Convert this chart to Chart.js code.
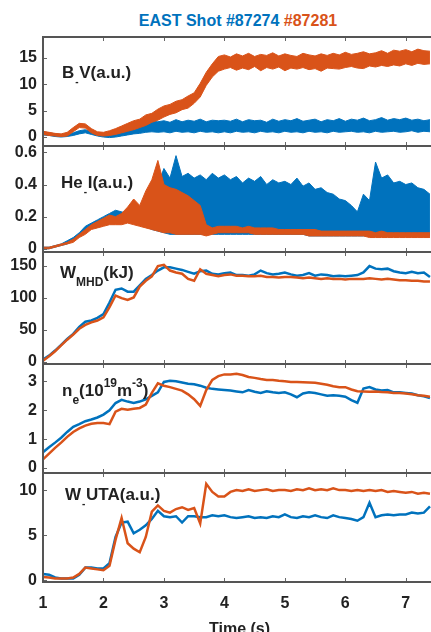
<!DOCTYPE html>
<html lang="en">
<head>
<meta charset="UTF-8">
<title>EAST Shot #87274 #87281</title>
<script src="https://cdn.jsdelivr.net/npm/chart.js@4.4.1/dist/chart.umd.min.js"></script>
<style>
  html, body { margin: 0; padding: 0; background: #fff; overflow: hidden; }
  #wrap { position: relative; width: 431px; height: 632px; overflow: hidden; }
  #title { position: absolute; left: 0; width: 476px; top: 12px; line-height: 18px; text-align: center;
           font: bold 16px "Liberation Sans", Arial, sans-serif; }
  canvas { position: absolute; left: 0; }
</style>
</head>
<body>
<div id="wrap">
  <div id="title"><span style="color:#0072BD">EAST Shot #87274</span> <span style="color:#D95319">#87281</span></div>
</div>
<script>
// time base (s)
var time = [1.0, 1.1, 1.2, 1.3, 1.4, 1.5, 1.6, 1.7, 1.8, 1.9,
            2.0, 2.1, 2.2, 2.3, 2.4, 2.5, 2.6, 2.7, 2.8, 2.9,
            3.0, 3.1, 3.2, 3.3, 3.4, 3.5, 3.6, 3.7, 3.8, 3.9,
            4.0, 4.1, 4.2, 4.3, 4.4, 4.5, 4.6, 4.7, 4.8, 4.9,
            5.0, 5.1, 5.2, 5.3, 5.4, 5.5, 5.6, 5.7, 5.8, 5.9,
            6.0, 6.1, 6.2, 6.3, 6.4, 6.5, 6.6, 6.7, 6.8, 6.9,
            7.0, 7.1, 7.2, 7.3, 7.4];
var xTicks = [1, 2, 3, 4, 5, 6, 7];

// B_V (a.u.) noise envelopes
var bvOrangeHi = [1.1, 0.9, 0.7, 0.6, 0.9, 1.8, 2.6, 2.5, 1.6, 1.0,
                  0.9, 1.2, 1.6, 2.1, 2.6, 3.1, 3.4, 4.2, 4.5, 5.3,
                  5.9, 6.2, 6.8, 7.1, 7.8, 8.4, 10.2, 12.3, 13.9, 15.3,
                  15.6, 15.2, 15.8, 15.4, 15.9, 15.3, 15.7, 15.5, 16.0, 15.4,
                  15.8, 15.5, 15.3, 15.9, 15.6, 15.4, 15.8, 15.5, 15.9, 15.6,
                  16.1, 15.7, 15.9, 16.2, 15.8, 16.0, 16.4, 15.9, 16.5, 16.3,
                  16.6, 16.2, 16.7, 16.4, 16.3];
var bvOrangeLo = [0.5, 0.3, 0.2, 0.1, 0.2, 1.0, 1.8, 1.7, 0.8, 0.3,
                  0.2, 0.3, 0.5, 0.8, 1.1, 1.4, 1.8, 2.2, 2.8, 3.2,
                  3.8, 4.3, 4.6, 5.2, 5.5, 6.4, 7.6, 9.8, 11.4, 12.5,
                  12.9, 13.2, 12.7, 13.1, 12.8, 13.4, 12.6, 13.2, 12.9, 13.3,
                  12.6, 13.1, 12.9, 13.2, 12.8, 13.0, 12.5, 13.1, 13.0, 12.9,
                  13.2, 13.4, 13.1, 13.0, 13.5, 13.3, 13.6, 13.4, 13.7, 13.5,
                  13.9, 13.6, 14.0, 13.8, 13.9];
var bvBlueHi = [1.0, 0.8, 0.6, 0.5, 0.6, 0.8, 1.2, 1.4, 1.0, 0.7,
                0.7, 0.9, 1.2, 1.5, 1.9, 2.3, 2.6, 2.8, 3.0, 2.9,
                3.1, 2.8, 3.3, 2.9, 3.2, 3.0, 3.4, 2.9, 3.2, 3.1,
                3.2, 3.0, 3.4, 2.9, 3.3, 3.1, 3.2, 2.8, 3.4, 3.0,
                3.3, 3.1, 3.5, 3.0, 3.2, 3.4, 2.9, 3.3, 3.1, 3.5,
                3.0, 3.4, 3.2, 3.6, 3.1, 3.3, 3.7, 3.2, 3.5, 3.3,
                3.6, 3.2, 3.4, 3.1, 3.3];
var bvBlueLo = [0.4, 0.3, 0.1, 0.0, 0.1, 0.3, 0.6, 0.8, 0.5, 0.2,
                0.0, -0.1, 0.0, 0.2, 0.4, 0.6, 0.7, 0.9, 1.0, 0.9,
                1.0, 0.8, 1.1, 0.9, 1.0, 0.8, 1.1, 0.9, 1.0, 0.8,
                1.0, 0.8, 1.1, 0.9, 1.0, 0.8, 1.1, 0.9, 1.0, 0.8,
                1.1, 0.9, 1.0, 0.8, 1.1, 0.9, 1.0, 0.8, 1.1, 0.9,
                1.0, 1.1, 0.9, 1.0, 0.8, 1.1, 0.9, 1.0, 1.1, 0.9,
                1.0, 1.2, 0.9, 1.1, 1.0];

// He_I (a.u.) envelopes
var heOrangeHi = [0.01, 0.01, 0.02, 0.03, 0.04, 0.06, 0.09, 0.12, 0.15, 0.17,
                  0.19, 0.21, 0.20, 0.22, 0.26, 0.31, 0.27, 0.36, 0.43, 0.55,
                  0.40, 0.38, 0.37, 0.35, 0.33, 0.30, 0.27, 0.15, 0.13, 0.14,
                  0.14, 0.14, 0.14, 0.13, 0.14, 0.13, 0.13, 0.13, 0.13, 0.12,
                  0.12, 0.12, 0.12, 0.12, 0.12, 0.12, 0.11, 0.11, 0.11, 0.11,
                  0.11, 0.11, 0.11, 0.11, 0.11, 0.10, 0.11, 0.10, 0.10, 0.10,
                  0.10, 0.10, 0.10, 0.10, 0.10];
var heOrangeLo = [0.00, 0.00, 0.01, 0.02, 0.03, 0.04, 0.07, 0.09, 0.12, 0.13,
                  0.14, 0.15, 0.15, 0.15, 0.16, 0.15, 0.14, 0.13, 0.12, 0.11,
                  0.10, 0.10, 0.09, 0.09, 0.09, 0.09, 0.09, 0.08, 0.09, 0.10,
                  0.10, 0.10, 0.10, 0.10, 0.10, 0.09, 0.09, 0.09, 0.09, 0.09,
                  0.09, 0.09, 0.09, 0.09, 0.08, 0.08, 0.08, 0.08, 0.08, 0.08,
                  0.08, 0.08, 0.08, 0.08, 0.07, 0.07, 0.07, 0.07, 0.07, 0.07,
                  0.07, 0.07, 0.07, 0.07, 0.07];
var heBlueHi = [0.01, 0.01, 0.02, 0.03, 0.05, 0.07, 0.10, 0.14, 0.16, 0.18,
                0.20, 0.22, 0.24, 0.23, 0.22, 0.24, 0.25, 0.30, 0.34, 0.40,
                0.50, 0.44, 0.58, 0.45, 0.47, 0.44, 0.46, 0.43, 0.47, 0.44,
                0.46, 0.43, 0.45, 0.41, 0.44, 0.42, 0.45, 0.40, 0.43, 0.41,
                0.42, 0.40, 0.44, 0.39, 0.41, 0.37, 0.38, 0.35, 0.34, 0.31,
                0.30, 0.27, 0.23, 0.34, 0.30, 0.54, 0.44, 0.46, 0.41, 0.42,
                0.40, 0.41, 0.38, 0.37, 0.34];
var heBlueLo = [0.00, 0.00, 0.01, 0.02, 0.03, 0.05, 0.08, 0.11, 0.13, 0.14,
                0.15, 0.16, 0.17, 0.17, 0.17, 0.17, 0.16, 0.14, 0.12, 0.11,
                0.10, 0.09, 0.09, 0.09, 0.09, 0.09, 0.09, 0.09, 0.09, 0.09,
                0.09, 0.09, 0.09, 0.09, 0.09, 0.09, 0.09, 0.09, 0.09, 0.09,
                0.09, 0.09, 0.09, 0.09, 0.08, 0.08, 0.08, 0.08, 0.08, 0.08,
                0.08, 0.08, 0.08, 0.08, 0.08, 0.08, 0.08, 0.08, 0.08, 0.08,
                0.08, 0.08, 0.08, 0.08, 0.08];

// W_MHD (kJ)
var wmhdBlue = [4, 10, 18, 27, 36, 44, 55, 63, 65, 69,
                75, 93, 113, 115, 110, 110, 120, 130, 136, 143,
                148, 148, 146, 144, 141, 138, 142, 143, 138, 137,
                139, 140, 136, 136, 135, 137, 143, 139, 137, 138,
                140, 137, 135, 136, 139, 135, 137, 136, 134, 135,
                134, 135, 136, 140, 150, 146, 145, 146, 142, 140,
                139, 141, 139, 140, 133];
var wmhdOrange = [2, 9, 17, 26, 35, 43, 52, 58, 62, 65,
                  70, 86, 104, 100, 97, 101, 118, 127, 134, 150,
                  152, 143, 140, 138, 130, 127, 145, 138, 136, 134,
                  136, 137, 135, 135, 134, 134, 135, 133, 133, 132,
                  133, 133, 132, 131, 132, 131, 130, 131, 130, 130,
                  129, 130, 130, 130, 131, 130, 129, 130, 129, 128,
                  128, 127, 127, 126, 126];

// n_e (10^19 m^-3)
var neBlue = [0.55, 0.72, 0.88, 1.05, 1.25, 1.43, 1.52, 1.62, 1.68, 1.75,
              1.85, 2.0, 2.25, 2.36, 2.3, 2.25, 2.3, 2.38, 2.5, 2.62,
              2.98, 3.02, 3.0, 2.96, 2.92, 2.9, 2.85, 2.78, 2.74, 2.72,
              2.7, 2.68, 2.65, 2.62, 2.7, 2.64, 2.6, 2.66, 2.62, 2.6,
              2.62, 2.55, 2.45, 2.58, 2.62, 2.6, 2.55, 2.5, 2.52, 2.5,
              2.47, 2.35, 2.26, 2.75, 2.8, 2.72, 2.68, 2.7, 2.62, 2.62,
              2.6, 2.58, 2.52, 2.48, 2.42];
var neOrange = [0.3, 0.5, 0.7, 0.88, 1.08, 1.25, 1.37, 1.47, 1.53, 1.56,
                1.56, 1.52, 1.95, 2.05, 2.02, 2.05, 2.08, 2.2, 2.6, 2.93,
                2.85, 2.8, 2.74, 2.68, 2.55, 2.38, 2.15, 2.7, 3.05, 3.18,
                3.24, 3.24, 3.26, 3.22, 3.15, 3.12, 3.08, 3.05, 3.05, 3.02,
                3.0, 2.98, 2.98, 2.97, 2.96, 2.95, 2.92, 2.88, 2.83, 2.8,
                2.8, 2.72, 2.66, 2.65, 2.64, 2.65, 2.63, 2.62, 2.6, 2.6,
                2.58, 2.55, 2.52, 2.5, 2.47];

// W_UTA (a.u.)
var wutaBlue = [0.7, 0.6, 0.3, 0.2, 0.2, 0.2, 0.6, 1.4, 1.4, 1.3,
                1.3, 1.9, 4.8, 6.4, 6.5, 5.2, 5.6, 6.1, 6.8, 7.7,
                7.1, 7.0, 7.1, 6.4, 7.1, 7.1, 7.0, 7.0, 7.2, 7.1,
                7.2, 7.0, 6.9, 7.0, 7.1, 6.9, 7.0, 6.9, 7.1, 7.0,
                7.3, 7.0, 6.9, 7.1, 7.0, 7.2, 7.0, 6.9, 7.2, 7.0,
                6.9, 6.8, 6.6, 7.0, 8.6, 7.0, 7.2, 7.3, 7.2, 7.3,
                7.3, 7.5, 7.4, 7.5, 8.2];
var wutaOrange = [0.35, 0.3, 0.2, 0.2, 0.2, 0.3, 0.7, 1.4, 1.3, 1.2,
                  1.1, 1.6, 4.5, 6.9, 4.1, 3.5, 3.1, 4.8, 7.6, 8.3,
                  7.7, 7.5, 7.9, 8.1, 7.8, 8.0, 6.3, 10.7, 9.8, 9.3,
                  9.3, 9.8, 10.0, 9.9, 10.1, 9.9, 10.0, 10.1, 9.9, 10.0,
                  10.0, 9.9, 10.1, 10.0, 10.2, 10.0, 10.1, 10.0, 10.2, 10.0,
                  10.0, 9.9, 10.0, 9.9, 10.0, 9.9, 10.0, 9.8, 9.9, 9.8,
                  9.7, 9.8, 9.6, 9.7, 9.6];

var blue = '#0072BD', orange = '#D95319';
var fam = '"Liberation Sans", Arial, sans-serif';

function pts(arr) {
  return time.map((t, i) => ({ x: t, y: arr[i] }));
}
function line(arr, color) {
  return { data: pts(arr), borderColor: color, borderWidth: 2.5, pointRadius: 0, fill: false };
}
function edge(arr, color, fill) {
  return { data: pts(arr), borderColor: color, backgroundColor: color, borderWidth: 1, pointRadius: 0, fill: fill };
}

var panels = [
  { top: 37, bottom: 146, min: -1.7, max: 19, ticks: [0, 5, 10, 15], lx: 62, ly: 41,
    label: [['B', 'n'], ['_', 'dash'], ['V(a.u.)', 'n']],
    sets: [edge(bvOrangeHi, orange, false), edge(bvOrangeLo, orange, '-1'),
           edge(bvBlueHi, blue, false), edge(bvBlueLo, blue, '-1')] },
  { top: 146, bottom: 252, min: -0.02, max: 0.64, ticks: [0, 0.2, 0.4, 0.6], lx: 61, ly: 42,
    label: [['He', 'n'], ['_', 'dash'], ['I(a.u.)', 'n']],
    sets: [edge(heOrangeHi, orange, false), edge(heOrangeLo, orange, '-1'),
           edge(heBlueHi, blue, false), edge(heBlueLo, blue, '-1')] },
  { top: 252, bottom: 364, min: -3, max: 172, ticks: [0, 50, 100, 150], lx: 60, ly: 26,
    label: [['W', 'n'], ['MHD', 'sub'], ['(kJ)', 'n']],
    sets: [line(wmhdOrange, orange), line(wmhdBlue, blue)] },
  { top: 364, bottom: 473, min: -0.17, max: 3.6, ticks: [0, 1, 2, 3], lx: 62, ly: 32,
    label: [['n', 'n'], ['e', 'sub'], ['(10', 'n'], ['19', 'sup'], ['m', 'n'], ['-3', 'sup'], [')', 'n']],
    sets: [line(neOrange, orange), line(neBlue, blue)] },
  { top: 473, bottom: 582, min: -0.2, max: 11.9, ticks: [0, 5, 10], lx: 65, ly: 27,
    label: [['W', 'n'], ['_', 'dash'], ['UTA(a.u.)', 'n']],
    sets: [line(wutaOrange, orange), line(wutaBlue, blue)] }
];

function drawLabel(ctx, parts, x, y) {
  var cx = x;
  ctx.fillStyle = '#222';
  ctx.textAlign = 'left';
  ctx.textBaseline = 'alphabetic';
  parts.forEach(function (p) {
    var txt = p[0], kind = p[1];
    if (kind === 'dash') {
      ctx.font = 'bold 10px ' + fam;
      ctx.fillText('-', cx + 1, y + 7);
      cx += 5;
      return;
    }
    ctx.font = 'bold ' + (kind === 'n' ? 17 : 12) + 'px ' + fam;
    var dy = kind === 'sub' ? 8 : (kind === 'sup' ? -9 : 0);
    ctx.fillText(txt, cx, y + dy);
    cx += ctx.measureText(txt).width;
  });
}

var frame = {
  id: 'frame',
  afterDatasetsDraw(chart, args, opts) {
    var ctx = chart.ctx, a = chart.chartArea, x = chart.scales.x, y = chart.scales.y;
    ctx.save();
    ctx.strokeStyle = '#666';
    ctx.lineWidth = 1;
    ctx.beginPath();
    xTicks.forEach(function (v) {
      var px = Math.round(x.getPixelForValue(v)) + 0.5;
      ctx.moveTo(px, a.top); ctx.lineTo(px, a.top + 4);
      ctx.moveTo(px, a.bottom); ctx.lineTo(px, a.bottom - 4);
    });
    y.ticks.forEach(function (t) {
      var py = Math.round(y.getPixelForValue(t.value)) + 0.5;
      ctx.moveTo(a.left, py); ctx.lineTo(a.left + 4, py);
    });
    ctx.stroke();
    ctx.strokeStyle = '#555';
    ctx.lineWidth = 2;
    ctx.strokeRect(a.left, a.top, a.right - a.left, a.bottom - a.top);
    drawLabel(ctx, opts.label, opts.lx, a.top + opts.ly);
    ctx.restore();
  }
};

var wrap = document.getElementById('wrap');
panels.forEach(function (p, i) {
  var last = i === panels.length - 1;
  var pad = 10;
  var h = last ? 180 : (p.bottom - p.top + 2 * pad);
  var cv = document.createElement('canvas');
  cv.width = 440;
  cv.height = h;
  cv.style.top = (p.top - pad) + 'px';
  wrap.appendChild(cv);

  new Chart(cv, {
    type: 'line',
    data: { datasets: p.sets },
    plugins: [frame],
    options: {
      responsive: false,
      animation: false,
      layout: { padding: { top: pad, bottom: last ? 0 : pad, left: 0, right: 4 } },
      plugins: {
        legend: { display: false },
        tooltip: { enabled: false },
        frame: { label: p.label, lx: p.lx, ly: p.ly }
      },
      scales: {
        x: {
          type: 'linear',
          min: 1,
          max: 7.5,
          display: last,
          grid: { display: false, drawTicks: false },
          border: { display: false },
          afterBuildTicks: function (s) { s.ticks = xTicks.map(function (v) { return { value: v }; }); },
          afterFit: function (s) {
            if (last) s.height = h - pad - (p.bottom - p.top);
            s.paddingLeft = 0; s.paddingRight = 0;
          },
          ticks: {
            padding: 12,
            color: '#222',
            maxRotation: 0,
            font: { family: fam, size: 16, weight: 'bold' },
            callback: function (v) { return String(v); }
          },
          title: {
            display: true,
            text: 'Time (s)',
            color: '#222',
            padding: { top: 0, bottom: 4 },
            font: { family: fam, size: 16, weight: 'bold' }
          }
        },
        y: {
          min: p.min,
          max: p.max,
          grid: { display: false, drawTicks: false },
          border: { display: false },
          afterBuildTicks: function (s) { s.ticks = p.ticks.map(function (v) { return { value: v }; }); },
          afterFit: function (s) { s.width = 43; s.paddingTop = 0; s.paddingBottom = 0; },
          ticks: {
            padding: 6,
            color: '#222',
            font: { family: fam, size: 16, weight: 'bold' },
            callback: function (v) { return String(v); }
          }
        }
      }
    }
  });
});
</script>
</body>
</html>
